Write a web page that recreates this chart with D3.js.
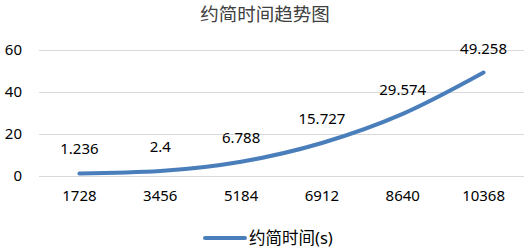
<!DOCTYPE html>
<html>
<head>
<meta charset="utf-8">
<script src="https://cdn.jsdelivr.net/npm/d3@7"></script>
<style>
  body { margin: 0; background: #fff; }
  text { font-family: "Noto Sans", "Noto Sans CJK SC", sans-serif; fill: #000; }
</style>
</head>
<body>
<svg></svg>
<script>
var categories = ["1728", "3456", "5184", "6912", "8640", "10368"]
var values = [1.236, 2.4, 6.788, 15.727, 29.574, 49.258]
var yTicks = [0, 20, 40, 60]
var title = "约简时间趋势图"
var seriesName = "约简时间(s)"

var screen = {width: 530, height: 250}
var margins = {top: 50, right: 6, bottom: 74, left: 39}

var svg = d3.select("svg")
    .attr("width", screen.width)
    .attr("height", screen.height)

var width = screen.width - margins.left - margins.right
var height = screen.height - margins.top - margins.bottom

var xScale = d3.scaleBand()
    .domain(categories)
    .range([0, width])

var yScale = d3.scaleLinear()
    .domain([0, 60])
    .range([height, 0])

var graph = svg.append("g")
    .attr("transform", "translate(" + margins.left + "," + margins.top + ")")

// gridlines
var yAxis = d3.axisLeft(yScale)
    .tickValues(yTicks)
    .tickSize(-width)
    .tickPadding(17)

graph.append("g")
    .attr("class", "yAxis")
    .call(yAxis)
    .call(function(g){
        g.select(".domain").remove()
        g.selectAll(".tick line").attr("stroke", "#d9d9d9").attr("stroke-width", 1)
        g.selectAll(".tick text").style("font-size", "15px")
    })

var xAxis = d3.axisBottom(xScale).tickSize(0).tickPadding(14)
graph.append("g")
    .attr("class", "xAxis")
    .attr("transform", "translate(0," + height + ")")
    .call(xAxis)
    .call(function(g){
        g.select(".domain").remove()
        g.selectAll(".tick text").style("font-size", "15px")
    })

var lineGenerator = d3.line()
    .x(function(d, i){ return xScale(categories[i]) + xScale.bandwidth() / 2 })
    .y(function(d){ return yScale(d) })
    .curve(d3.curveMonotoneX)

graph.append("path")
    .datum(values)
    .attr("d", lineGenerator)
    .attr("fill", "none")
    .attr("stroke", "#4a7ebb")
    .attr("stroke-width", 4)
    .attr("stroke-linecap", "round")

graph.selectAll(".label")
    .data(values)
    .enter()
    .append("text")
    .attr("class", "label")
    .attr("x", function(d, i){ return xScale(categories[i]) + xScale.bandwidth() / 2 })
    .attr("y", function(d){ return yScale(d) - 19 })
    .attr("text-anchor", "middle")
    .style("font-size", "15px")
    .text(function(d){ return d })

svg.append("text")
    .attr("x", 265)
    .attr("y", 21)
    .attr("text-anchor", "middle")
    .style("font-size", "18.5px")
    .style("fill", "#404040")
    .text(title)

// legend
var legend = svg.append("g").attr("transform", "translate(205,238)")
legend.append("line")
    .attr("x1", 0).attr("x2", 40)
    .attr("stroke", "#4a7ebb")
    .attr("stroke-width", 4)
    .attr("stroke-linecap", "round")
legend.append("text")
    .attr("x", 44)
    .attr("y", 6)
    .style("font-size", "16.5px")
    .text(seriesName)
</script>
</body>
</html>
